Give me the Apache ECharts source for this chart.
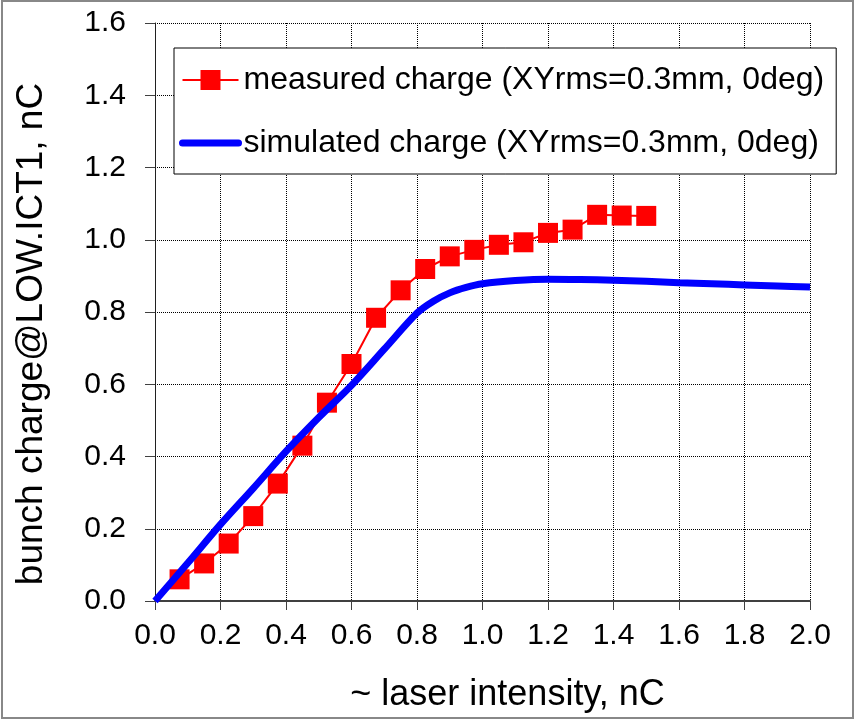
<!DOCTYPE html>
<html>
<head>
<meta charset="utf-8">
<script src="https://cdn.jsdelivr.net/npm/echarts@6/dist/echarts.min.js"></script>
<style>
html,body{margin:0;padding:0;background:#fff;}
#c{width:856px;height:721px;}
</style>
</head>
<body>
<div id="c"></div>
<script>
const measuredX = [0.075,0.15,0.225,0.3,0.375,0.45,0.525,0.6,0.675,0.75,0.825,0.9,0.975,1.05,1.125,1.2,1.275,1.35,1.425,1.5];
const measuredY = [0.060,0.104,0.159,0.235,0.325,0.430,0.549,0.656,0.784,0.860,0.919,0.954,0.972,0.986,0.993,1.019,1.028,1.069,1.067,1.066];
const simX = [0,0.1,0.2,0.3,0.4,0.5,0.6,0.7,0.8,0.85,0.9,0.95,1.0,1.1,1.2,1.3,1.4,1.5,1.6,1.7,1.8,1.9,2.0];
const simY = [0,0.105,0.212,0.312,0.414,0.508,0.597,0.697,0.797,0.830,0.853,0.868,0.878,0.887,0.891,0.890,0.888,0.885,0.881,0.878,0.875,0.872,0.869];
const xTicks = ['0.0','0.2','0.4','0.6','0.8','1.0','1.2','1.4','1.6','1.8','2.0'];
const yTicks = ['0.0','0.2','0.4','0.6','0.8','1.0','1.2','1.4','1.6'];
const names = ['measured charge (XYrms=0.3mm, 0deg)','simulated charge (XYrms=0.3mm, 0deg)'];

const FONT = "'Liberation Sans',Arial,sans-serif";

const chart = echarts.init(document.getElementById('c'), null, {renderer:'canvas'});
chart.setOption({
  animation:false,
  backgroundColor:'#fff',
  graphic:[{type:'rect',shape:{x:2,y:1,width:851,height:717},style:{fill:'none',stroke:'#888',lineWidth:2},silent:true,z:-1}],
  grid:{left:155,right:46,top:23,bottom:120,containLabel:false,outerBoundsMode:'none'},
  legend:{
    orient:'vertical',left:174,top:48,
    backgroundColor:'#fff',borderColor:'#000',borderWidth:1,borderRadius:0,
    padding:[14,12,13,5],itemGap:27,itemWidth:56,itemHeight:25,
    textStyle:{fontFamily:FONT,fontSize:32,color:'#000',lineHeight:36},
    data:[
      {name:names[0]},
      {name:names[1],itemStyle:{opacity:0},lineStyle:{cap:'round',width:7}}
    ]
  },
  xAxis:{
    type:'value',min:0,max:2,interval:0.2,
    name:'~ laser intensity, nC',nameLocation:'middle',nameGap:76,
    nameTextStyle:{fontFamily:FONT,fontSize:36,color:'#000',padding:[0,0,0,50]},
    axisLine:{show:true,lineStyle:{color:'#404040',width:2}},
    axisTick:{show:true,inside:false,length:9,lineStyle:{color:'#404040',width:1}},
    axisLabel:{fontFamily:FONT,fontSize:30,color:'#000',margin:20,formatter:(v)=>xTicks[Math.round(v/0.2)]},
    splitLine:{show:true,lineStyle:{type:'dotted',color:'#000',width:1}}
  },
  yAxis:{
    type:'value',min:0,max:1.6,interval:0.2,
    name:'bunch charge@LOW.ICT1, nC',nameLocation:'middle',nameGap:105,
    nameTextStyle:{fontFamily:FONT,fontSize:37,color:'#000',padding:[0,44,0,0]},
    axisLine:{show:true,lineStyle:{color:'#202020',width:1}},
    axisTick:{show:true,inside:false,length:10,lineStyle:{color:'#404040',width:1}},
    axisLabel:{fontFamily:FONT,fontSize:30,color:'#000',margin:29,formatter:(v)=>yTicks[Math.round(v/0.2)]},
    splitLine:{show:true,lineStyle:{type:'dotted',color:'#000',width:1}}
  },
  series:[
    {
      name:names[0],type:'line',
      data:measuredX.map((x,i)=>[x,measuredY[i]]),
      symbol:'rect',symbolSize:20,showSymbol:true,
      itemStyle:{color:'#ff0000'},
      lineStyle:{color:'#ff0000',width:2},
      z:3
    },
    {
      name:names[1],type:'line',
      data:simX.map((x,i)=>[x,simY[i]]),
      showSymbol:false,symbol:'none',smooth:0.3,
      itemStyle:{color:'#0000ff'},
      lineStyle:{color:'#0000ff',width:7},
      z:4
    }
  ]
});
</script>
</body>
</html>
